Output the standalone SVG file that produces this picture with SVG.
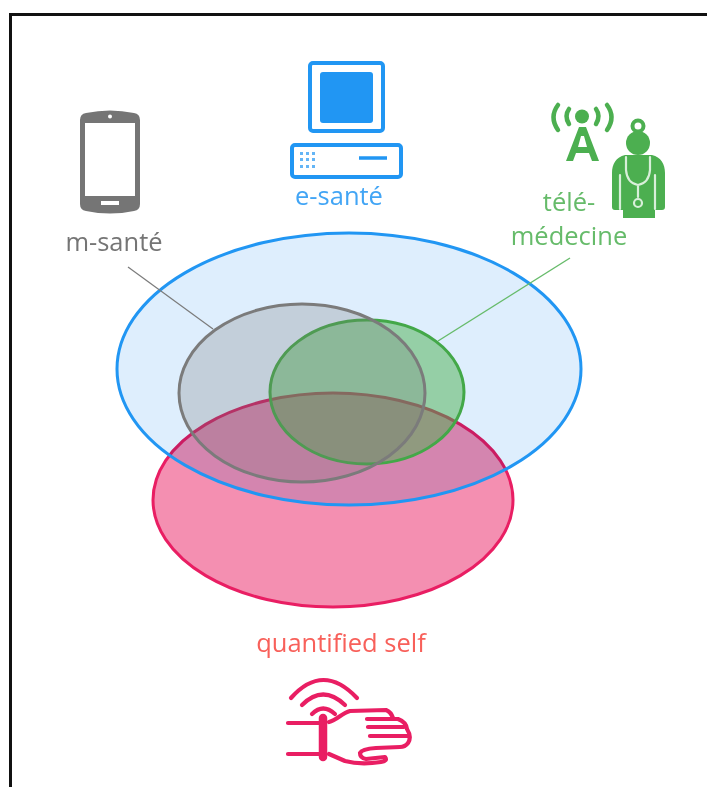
<svg xmlns="http://www.w3.org/2000/svg" width="707" height="787" viewBox="0 0 707 787">
<style>
text{font-family:"Open Sans","Noto Sans","Liberation Sans",sans-serif;font-size:25.5px;text-anchor:middle}
.venn{stroke-width:3}
.q{fill:none;stroke:#e91e63;stroke-width:4.200;stroke-linecap:round;stroke-linejoin:round}
.g{fill:#4caf50}
.gs{fill:none;stroke:#4caf50;stroke-width:4.500;stroke-linecap:round;stroke-linejoin:round}
.w{fill:none;stroke:#d8efd9;stroke-width:2.200;stroke-linecap:round}
.b{fill:none;stroke:#2196f3;stroke-width:4}
.d{fill:#64b5f6}
</style>
<rect width="707" height="787" fill="#fff"/>
<path d="M10.500 787V14.500H707" fill="none" stroke="#111" stroke-width="3"/>
<g id="quantified-self-area"><ellipse class="venn" cx="333" cy="500" rx="180" ry="107" fill="#f48fb1" stroke="#e91e63"/></g>
<g id="e-sante-area"><ellipse cx="349" cy="369" rx="232" ry="136" fill="#deeefd" style="mix-blend-mode:multiply"/><ellipse class="venn" cx="349" cy="369" rx="232" ry="136" fill="none" stroke="#2196f3"/></g>
<g id="telemedecine-area"><ellipse class="venn" cx="367" cy="392" rx="97" ry="72" fill="#4caf50" fill-opacity=".5" stroke="#43a848"/></g>
<g id="m-sante-area"><ellipse class="venn" cx="302" cy="393" rx="123" ry="89" fill="#727272" fill-opacity=".25" stroke="#7b7b7b"/></g>
<g id="connectors" fill="none">
<path d="M128 267L213 329" stroke="#7b7b7b" stroke-width="1.200"/>
<path d="M570 258L438 341" stroke="#66bb6a" stroke-width="1.400"/>
</g>
<g id="m-sante">
<path d="M80 120Q80 114 86 113Q110 108 134 113Q140 114 140 120V204Q140 210 134 211Q110 216 86 211Q80 210 80 204Z" fill="#757575"/>
<rect x="85" y="123" width="50" height="73" fill="#fff"/>
<circle cx="110" cy="116.500" r="2" fill="#fff"/>
<rect x="101" y="201" width="18" height="4" fill="#fff"/>
<text x="114" y="251" fill="#757575">m-santé</text>
</g>
<g id="e-sante">
<rect x="310" y="63" width="73" height="68" rx="3" class="b"/>
<rect x="320" y="72" width="53" height="51" rx="3" fill="#2196f3"/>
<rect x="292" y="145" width="109" height="32" rx="3" class="b"/>
<path d="M359 158H387" stroke="#2196f3" stroke-width="3.500"/>
<g class="d">
<rect x="300" y="152" width="3" height="3"/><rect x="306" y="152" width="3" height="3"/><rect x="312" y="152" width="3" height="3"/>
<rect x="300" y="158" width="3" height="3"/><rect x="306" y="158" width="3" height="3"/><rect x="312" y="158" width="3" height="3"/>
<rect x="300" y="165" width="3" height="3"/><rect x="306" y="165" width="3" height="3"/><rect x="312" y="165" width="3" height="3"/>
</g>
<text x="339" y="205" fill="#42a5f5">e-santé</text>
</g>
<g id="telemedecine">
<circle cx="582" cy="116.500" r="7" class="g"/>
<path class="gs" d="M569 109Q564 116 569 124M596 109Q601 116 596 124M558 105Q549 117 558 130M607 105Q616 117 607 130"/>
<path class="g" d="M579 127H586L599 161H592L589 153H576L573 161H566ZM581 136L578 147H587L584 136Z"/>
<circle cx="638" cy="126" r="5.500" fill="none" stroke="#4caf50" stroke-width="4"/>
<circle cx="638" cy="143" r="12" class="g"/>
<path class="g" d="M625 155H652C661 157 665 164 665 173V207Q665 210 662 210H655V218H623V210H615Q612 210 612 207V173C612 164 616 157 625 155Z"/>
<path class="w" d="M626 157V170Q627 183 638 185Q649 183 650 170V157M638 185V197M620 175V209M655 175V209"/>
<circle cx="638" cy="203" r="4" fill="#4caf50" stroke="#d8efd9" stroke-width="2.200"/>
<text x="569" y="211" fill="#66bb6a">télé-</text>
<text x="569" y="245" fill="#66bb6a">médecine</text>
</g>
<g id="quantified-self">
<text x="341" y="652" fill="#f8605a">quantified self</text>
<path class="q" d="M291 698Q323 662 357 698M302 705Q323 684 345 705M312 714Q323 703 335 714"/>
<path d="M323 718V757" stroke="#e91e63" stroke-width="8.500" stroke-linecap="round"/>
<path class="q" d="M288 723H323M288 754H323M329 722C337 720 342 713 350 711L386 710Q391 712 393 718M367 719H398Q406 722 407 729Q412 737 408 743Q405 747 400 747L376 748Q362 749 360 753Q360 758 366 759L385 757Q388 761 381 762Q360 765 345 761L329 754M368 727H404M370 736H408"/>
</g>
</svg>
